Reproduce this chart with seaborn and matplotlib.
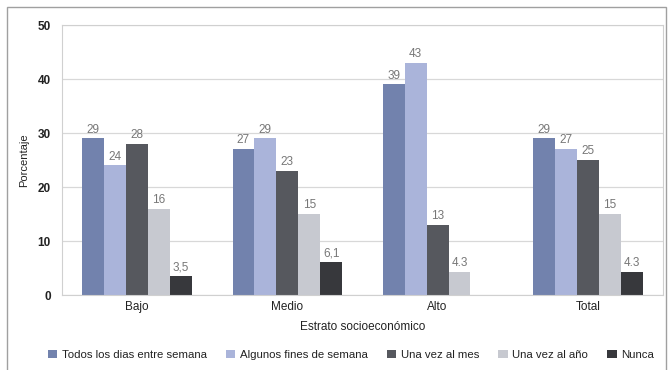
import numpy as np
import pandas as pd
import matplotlib
matplotlib.use("Agg")
import matplotlib.pyplot as plt
import seaborn as sns
from matplotlib.patches import Rectangle

# datos
estratos = ["Bajo", "Medio", "Alto", "Total"]
series = ["Todos los dias entre semana", "Algunos fines de semana",
          "Una vez al mes", "Una vez al año", "Nunca"]
todos = [29, 27, 39, 29]
algunos = [24, 29, 43, 27]
mes = [28, 23, 13, 25]
anio = [16, 15, 4.3, 15]
nunca = [3.5, 6.1, np.nan, 4.3]
sep_decimal = [",", ",", ".", "."]

colores = ["#7282ad", "#aab4da", "#56585e", "#c7c9d0", "#37383c"]

df = pd.DataFrame({"Estrato": estratos, series[0]: todos, series[1]: algunos,
                   series[2]: mes, series[3]: anio, series[4]: nunca})
df = df.melt(id_vars="Estrato", var_name="Frecuencia", value_name="Porcentaje")

sns.set_style("white")
plt.rcParams["font.family"] = ["Liberation Sans", "DejaVu Sans"]

fig = plt.figure(figsize=(6.7, 3.7), dpi=100)
ax = fig.add_axes([0.0925, 0.2027, 0.897, 0.7297])

sns.barplot(data=df, x="Estrato", y="Porcentaje", hue="Frecuencia",
            order=estratos, hue_order=series, palette=colores,
            width=0.73, gap=0, saturation=1, linewidth=0, ax=ax, legend=True)

# etiquetas de valor
for i, cont in enumerate(ax.containers):
    etiquetas = []
    for j, bar in enumerate(cont):
        v = bar.get_height()
        if np.isnan(v) or v == 0:
            etiquetas.append("")
        elif float(v).is_integer():
            etiquetas.append(str(int(v)))
        else:
            etiquetas.append(f"{v:.1f}".replace(".", sep_decimal[j]))
    ax.bar_label(cont, labels=etiquetas, padding=2, fontsize=8.5, color="#777777")

ax.set_ylim(0, 50)
ax.set_xlim(-0.5, 3.5)
ax.set_yticks([0, 10, 20, 30, 40, 50])
ax.yaxis.grid(True, color="#d8d8d8", linewidth=0.9)
ax.set_axisbelow(True)
for s in ax.spines.values():
    s.set_color("#d0d0d0")
    s.set_linewidth(0.8)
ax.tick_params(axis="y", labelsize=8.5, colors="#222222", length=0, pad=8)
ax.tick_params(axis="x", labelsize=8.5, colors="#222222", length=0, pad=4)
for t in ax.get_yticklabels():
    t.set_fontweight("bold")
ax.set_ylabel("Porcentaje", fontsize=8, color="#222222", labelpad=6)
ax.set_xlabel("Estrato socioeconómico", fontsize=8.5, color="#222222", labelpad=6)

ax.legend(loc="center", bbox_to_anchor=(0.481, -0.222), ncol=5, frameon=False,
          fontsize=8.2, handlelength=0.8, handleheight=0.8, handletextpad=0.4,
          columnspacing=1.7, labelcolor="#222222", borderaxespad=0)

# marco de la figura
fig.patches.append(Rectangle((7 / 670, -0.01), 659 / 670, 1 - 7 / 370 + 0.01,
                             transform=fig.transFigure, fill=False,
                             edgecolor="#a0a0a0", linewidth=1))

fig.savefig("out.png", dpi=100)
